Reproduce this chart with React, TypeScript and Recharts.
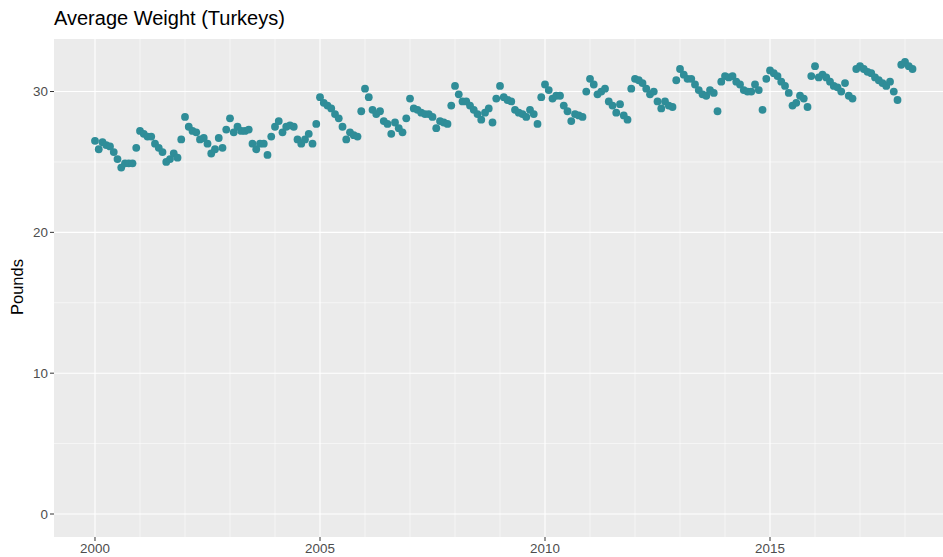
import React from "react";
import {
  ScatterChart,
  Scatter,
  XAxis,
  YAxis,
  CartesianGrid,
  ReferenceLine,
} from "recharts";

// monthly average weight, Jan..Dec per year (2018 only Jan-Mar)
const years = [
  2000, 2001, 2002, 2003, 2004, 2005, 2006, 2007, 2008, 2009, 2010, 2011, 2012,
  2013, 2014, 2015, 2016, 2017, 2018,
];
const pounds: number[][] = [
  [26.5, 25.9, 26.4, 26.2, 26.1, 25.7, 25.2, 24.6, 24.9, 24.9, 24.9, 26.0],
  [27.2, 27.0, 26.8, 26.8, 26.3, 26.0, 25.7, 25.0, 25.2, 25.6, 25.3, 26.6],
  [28.2, 27.5, 27.2, 27.1, 26.6, 26.7, 26.3, 25.6, 25.9, 26.7, 26.0, 27.3],
  [28.1, 27.1, 27.5, 27.2, 27.2, 27.3, 26.3, 25.9, 26.3, 26.3, 25.5, 26.8],
  [27.5, 27.9, 27.1, 27.5, 27.6, 27.5, 26.6, 26.3, 26.6, 27.0, 26.3, 27.7],
  [29.6, 29.2, 29.0, 28.8, 28.4, 28.1, 27.5, 26.6, 27.1, 26.9, 26.8, 28.6],
  [30.2, 29.6, 28.7, 28.4, 28.6, 27.9, 27.7, 27.0, 27.8, 27.4, 27.1, 28.1],
  [29.5, 28.8, 28.7, 28.5, 28.4, 28.4, 28.2, 27.4, 27.9, 27.8, 27.7, 29.0],
  [30.4, 29.8, 29.3, 29.3, 29.0, 28.7, 28.4, 28.0, 28.5, 28.8, 27.8, 29.5],
  [30.4, 29.6, 29.4, 29.3, 28.7, 28.5, 28.4, 28.2, 28.7, 28.4, 27.7, 29.6],
  [30.5, 30.1, 29.5, 29.7, 29.7, 29.0, 28.6, 27.9, 28.4, 28.3, 28.2, 30.0],
  [30.9, 30.5, 29.8, 30.0, 30.2, 29.3, 29.0, 28.5, 29.1, 28.3, 28.0, 30.2],
  [30.9, 30.8, 30.6, 30.2, 29.8, 30.0, 29.3, 28.8, 29.3, 29.0, 28.9, 30.8],
  [31.6, 31.2, 30.9, 30.9, 30.5, 30.1, 29.8, 29.7, 30.1, 29.9, 28.6, 30.7],
  [31.1, 31.0, 31.1, 30.7, 30.5, 30.1, 30.0, 30.0, 30.5, 30.1, 28.7, 30.9],
  [31.5, 31.3, 31.1, 30.7, 30.4, 29.9, 29.0, 29.2, 29.7, 29.5, 28.9, 31.1],
  [31.8, 31.0, 31.2, 31.0, 30.7, 30.4, 30.3, 30.0, 30.6, 29.7, 29.5, 31.6],
  [31.8, 31.6, 31.4, 31.3, 31.0, 30.8, 30.6, 30.4, 30.7, 30.0, 29.4, 31.9],
  [32.1, 31.8, 31.6],
];

const xTicks = [2000, 2005, 2010, 2015];
const yTicks = [0, 10, 20, 30];
const yMinor = [5, 15, 25];
const xMinor = [
  2001, 2002, 2003, 2004, 2006, 2007, 2008, 2009, 2011, 2012, 2013, 2014, 2016,
  2017, 2018,
];

const data = years.flatMap((y, i) =>
  pounds[i].map((v, m) => ({ t: y + m / 12, pounds: v }))
);

const font = '"Liberation Sans", Arial, Helvetica, sans-serif';
const tickStyle = { fill: "#4D4D4D", fontSize: 13.4, fontFamily: font };

const Dot = (p: any) => (
  <circle cx={p.cx} cy={p.cy} r={3.9} fill="#2F8D98" />
);

export default function App() {
  return (
    <div
      style={{
        position: "absolute",
        left: 0,
        top: 0,
        width: 943,
        height: 557,
        background: "#fff",
        fontFamily: font,
      }}
    >
      <div
        style={{
          position: "absolute",
          left: 54,
          top: 8,
          fontSize: 20,
          lineHeight: 1,
          color: "#000",
          whiteSpace: "nowrap",
        }}
      >
        Average Weight (Turkeys)
      </div>
      <div
        style={{
          position: "absolute",
          left: 17,
          top: 287,
          fontSize: 16.5,
          lineHeight: 1,
          color: "#000",
          whiteSpace: "nowrap",
          transform: "translate(-50%, -50%) rotate(-90deg)",
        }}
      >
        Pounds
      </div>
      <ScatterChart
        width={943}
        height={557}
        margin={{ top: 39, right: 0, bottom: 0, left: 0 }}
      >
        <CartesianGrid
          fill="#EBEBEB"
          stroke="none"
          horizontal={false}
          vertical={false}
        />
        {yMinor.map((v) => (
          <ReferenceLine key={"ym" + v} y={v} stroke="#fff" strokeWidth={0.55} />
        ))}
        {xMinor.map((v) => (
          <ReferenceLine key={"xm" + v} x={v} stroke="#fff" strokeWidth={0.55} />
        ))}
        {yTicks.map((v) => (
          <ReferenceLine key={"y" + v} y={v} stroke="#fff" strokeWidth={1.1} />
        ))}
        {xTicks.map((v) => (
          <ReferenceLine key={"x" + v} x={v} stroke="#fff" strokeWidth={1.1} />
        ))}
        <XAxis
          type="number"
          dataKey="t"
          domain={[1999.089, 2018.844]}
          ticks={xTicks}
          allowDataOverflow
          height={20}
          axisLine={false}
          tickLine={{ stroke: "#333333" }}
          tickSize={4}
          tickMargin={2}
          tick={tickStyle}
          tickFormatter={(v: number) => String(Math.round(v))}
        />
        <YAxis
          type="number"
          dataKey="pounds"
          domain={[-1.633, 33.73]}
          ticks={yTicks}
          allowDataOverflow
          width={54}
          axisLine={false}
          tickLine={{ stroke: "#333333" }}
          tickSize={4}
          tickMargin={2}
          tick={tickStyle}
        />
        <Scatter data={data} shape={Dot} isAnimationActive={false} />
      </ScatterChart>
    </div>
  );
}
